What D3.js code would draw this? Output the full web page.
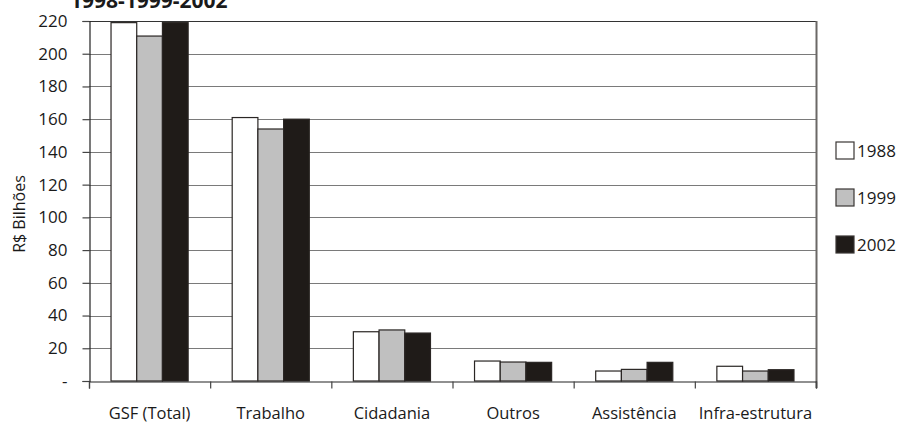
<!DOCTYPE html>
<html>
<head>
<meta charset="utf-8">
<script src="https://cdn.jsdelivr.net/npm/d3@7"></script>
<style>
  html, body { margin: 0; padding: 0; background: #fff; }
  svg { display: block; font-family: "Open Sans", "Noto Sans", sans-serif; }
</style>
</head>
<body>
<svg id="chart" width="901" height="425"></svg>
<script>
// Gasto social federal por área, em R$ bilhões
const categories = ["GSF (Total)", "Trabalho", "Cidadania", "Outros", "Assistência", "Infra-estrutura"];
const seriesNames = ["1988", "1999", "2002"];
const values1988 = [219, 161, 30.1, 12.2, 6.1, 9.0];
const values1999 = [210.8, 154, 31.2, 11.6, 7.1, 6.1];
const values2002 = [219, 160, 29.3, 11.4, 11.4, 6.9];
const yTicks = [0, 20, 40, 60, 80, 100, 120, 140, 160, 180, 200, 220];
const titleText = "1998-1999-2002";
const yLabel = "R$ Bilhões";

const seriesValues = [values1988, values1999, values2002];
const fills = ["#ffffff", "#c0c0c0", "#1f1b18"];

const svg = d3.select("#chart");
const plot = { left: 89, right: 816, top: 21, bottom: 381 };

const y = d3.scaleLinear().domain([0, 220]).range([plot.bottom, plot.top]);
const x0 = d3.scaleBand().domain(categories).range([plot.left, plot.right]).padding(0);
const x1 = d3.scaleBand().domain(seriesNames).range([0, x0.bandwidth()])
  .paddingInner(0).paddingOuter(0.857);
const color = d3.scaleOrdinal().domain(seriesNames).range(fills);

// horizontal gridlines
svg.append("g")
  .selectAll("line")
  .data(yTicks.filter(d => d > 0))
  .join("line")
  .attr("x1", plot.left).attr("x2", plot.right)
  .attr("y1", d => Math.round(y(d)) + 0.5).attr("y2", d => Math.round(y(d)) + 0.5)
  .attr("stroke", d => d === 220 ? "#333" : "#7a7a7a")
  .attr("stroke-width", 1.2);

// right border
svg.append("line")
  .attr("x1", plot.right + 0.5).attr("x2", plot.right + 0.5)
  .attr("y1", plot.top).attr("y2", plot.bottom + 7)
  .attr("stroke", "#6b6866").attr("stroke-width", 2);

// bars
const groups = svg.append("g")
  .selectAll("g")
  .data(categories)
  .join("g")
  .attr("transform", d => `translate(${x0(d)},0)`);

groups.selectAll("rect")
  .data((d, i) => seriesNames.map((s, j) => ({ s, v: seriesValues[j][i] })))
  .join("rect")
  .attr("x", d => x1(d.s))
  .attr("width", x1.bandwidth())
  .attr("y", d => y(d.v))
  .attr("height", d => y(0) - y(d.v))
  .attr("fill", d => color(d.s))
  .attr("stroke", "#2a2624")
  .attr("stroke-width", 1.2);

// y axis
const yAxis = d3.axisLeft(y)
  .tickValues(yTicks)
  .tickSize(7)
  .tickPadding(15)
  .tickFormat(d => d === 0 ? "-" : d);
const gy = svg.append("g")
  .attr("transform", `translate(${plot.left + 0.5},0)`)
  .call(yAxis);
gy.select(".domain").attr("stroke", "#222").attr("stroke-width", 1.2);
gy.selectAll(".tick line").attr("stroke", "#444").attr("stroke-width", 1.2);
gy.selectAll(".tick text").attr("font-size", 17).attr("fill", "#1a1a1a")
  .attr("font-family", "\"Open Sans\", sans-serif");

// x axis
const xBounds = categories.map(c => x0(c)).concat([plot.right]);
const bottomScale = d3.scaleLinear().domain([plot.left, plot.right]).range([plot.left, plot.right]);
const gx = svg.append("g")
  .attr("transform", `translate(0,${plot.bottom + 0.5})`)
  .call(d3.axisBottom(bottomScale).tickValues(xBounds).tickSize(7).tickFormat(""));
gx.select(".domain").attr("stroke", "#222").attr("stroke-width", 1.2);
gx.selectAll(".tick line").attr("stroke", "#444").attr("stroke-width", 1.2);

svg.append("g")
  .selectAll("text")
  .data(categories)
  .join("text")
  .attr("x", d => x0(d) + x0.bandwidth() / 2)
  .attr("y", 419)
  .attr("text-anchor", "middle")
  .attr("font-size", 16.5)
  .attr("fill", "#1a1a1a")
  .text(d => d);

// y label
svg.append("text")
  .attr("transform", `translate(25,${(plot.top + plot.bottom) / 2 + 13}) rotate(-90)`)
  .attr("text-anchor", "middle")
  .attr("font-size", 16)
  .attr("fill", "#1a1a1a")
  .text(yLabel);

// title
svg.append("text")
  .attr("x", 70)
  .attr("y", 8)
  .attr("font-size", 21)
  .attr("font-weight", "bold")
  .attr("fill", "#1a1a1a")
  .text(titleText);

// legend
const legend = svg.append("g")
  .selectAll("g")
  .data(seriesNames)
  .join("g")
  .attr("transform", (d, i) => `translate(836,${142 + i * 47})`);
legend.append("rect")
  .attr("width", 18).attr("height", 17)
  .attr("fill", d => color(d))
  .attr("stroke", "#3a3634").attr("stroke-width", 1.2);
legend.append("text")
  .attr("x", 21).attr("y", 15)
  .attr("font-size", 17)
  .attr("fill", "#1a1a1a")
  .text(d => d);
</script>
</body>
</html>
